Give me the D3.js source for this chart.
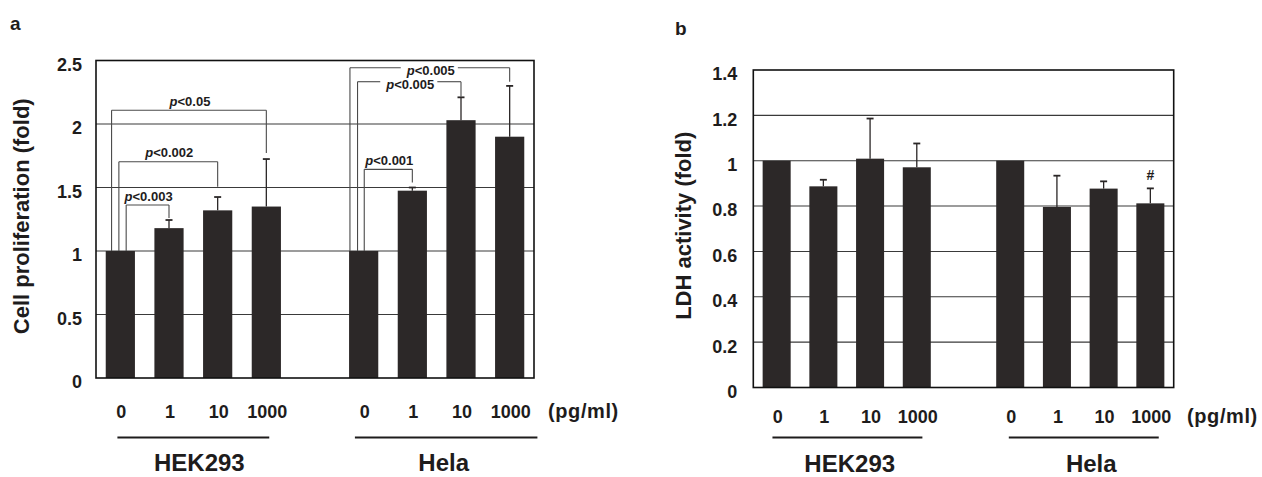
<!DOCTYPE html>
<html><head><meta charset="utf-8">
<script src="https://cdn.jsdelivr.net/npm/d3@7"></script>
<style>
body{margin:0;background:#fff;}
svg text{font-family:"Liberation Sans",Arial,Helvetica,sans-serif;font-weight:bold;fill:#1e1c1c;}
</style></head>
<body><svg id="c" width="1262" height="477"></svg>
<script>
// ---------- data ----------
const doses = ["0", "1", "10", "1000"];
const cellLines = ["HEK293", "Hela"];
const unitLabel = "(pg/ml)";

// panel a: cell proliferation (fold), order HEK293 0,1,10,1000 then Hela 0,1,10,1000
const profMean = [1.00, 1.18, 1.32, 1.35, 1.00, 1.475, 2.03, 1.90];
const profErr  = [0.00, 0.064, 0.105, 0.374, 0.00, 0.025, 0.18, 0.40];
const profTicks = [0, 0.5, 1, 1.5, 2, 2.5];
const profTickLabels = ["0", "0.5", "1", "1.5", "2", "2.5"];

// panel b: LDH activity (fold)
const ldhMean = [1.00, 0.887, 1.009, 0.971, 1.00, 0.796, 0.877, 0.812];
const ldhErr  = [0.00, 0.029, 0.177, 0.105, 0.00, 0.138, 0.032, 0.066];
const ldhTicks = [0, 0.2, 0.4, 0.6, 0.8, 1, 1.2, 1.4];
const ldhTickLabels = ["0", "0.2", "0.4", "0.6", "0.8", "1", "1.2", "1.4"];

// significance brackets (panel a): bar indices, bracket level and right-end level (data units)
const profBrackets = [
  {from: 0, to: 3, level: 2.108, end: 1.772, p: "0.05"},
  {from: 0, to: 2, level: 1.703, end: 1.506, p: "0.002"},
  {from: 0, to: 1, level: 1.362, end: 1.26,  p: "0.003"},
  {from: 4, to: 7, level: 2.443, end: 2.333, p: "0.005"},
  {from: 4, to: 6, level: 2.333, end: 2.215, p: "0.005"},
  {from: 4, to: 5, level: 1.643, end: 1.54,  p: "0.001"}
];
const bracketLeftShift = [-0.3, -0.05, 0.2, -0.47, -0.21, 0.02]; // fraction of bar width
const bracketInline = [false, false, false, true, true, false];

// panel b marker
const ldhMarks = [{bar: 7, text: "#"}];

// ---------- drawing ----------
const svg = d3.select("#c");
const slots = d3.range(9);
const slotOf = i => i < 4 ? i : i + 1;
const BAR = "#2c2828";

function panel(o) {
  const g = svg.append("g");
  const x = d3.scaleBand().domain(slots).range([o.left, o.right]).paddingInner(0.4).paddingOuter(0.2);
  const y = d3.scaleLinear().domain([0, o.max]).range([o.bottom, o.top]);
  const bw = x.bandwidth();
  const cx = i => x(slotOf(i)) + bw / 2;

  // gridlines
  g.append("g").selectAll("line").data(o.ticks.filter(t => t > 0 && t < o.max)).join("line")
    .attr("x1", o.left).attr("x2", o.right)
    .attr("y1", d => y(d)).attr("y2", d => y(d))
    .attr("stroke", "#3a3a3a").attr("stroke-width", 1.1);

  // y axis labels via d3 axis
  const ax = d3.axisLeft(y).tickValues(o.ticks).tickSize(0).tickPadding(o.pad)
    .tickFormat((d, i) => o.tickLabels[i]);
  const axg = g.append("g").attr("transform", `translate(${o.left},0)`).call(ax);
  axg.select(".domain").remove();
  axg.selectAll("text").attr("font-size", 18).attr("dy", "0.55em")
    .style("font-family", '"Liberation Sans",Arial,sans-serif').style("font-weight", "bold").attr("fill", "#1e1c1c");

  // bars
  g.append("g").selectAll("rect").data(o.mean).join("rect")
    .attr("x", (d, i) => x(slotOf(i))).attr("width", bw)
    .attr("y", d => y(d)).attr("height", d => y(0) - y(d))
    .attr("fill", BAR);

  // error bars
  const eb = g.append("g").attr("stroke", "#2a2626").attr("stroke-width", 1.3);
  o.mean.forEach((m, i) => {
    if (o.err[i] <= 0) return;
    const top = y(m + o.err[i]);
    eb.append("line").attr("x1", cx(i)).attr("x2", cx(i)).attr("y1", y(m)).attr("y2", top);
    eb.append("line").attr("x1", cx(i) - 3.5).attr("x2", cx(i) + 3.5).attr("y1", top).attr("y2", top).attr("stroke-width", 1.8);
  });

  // frame
  g.append("rect").attr("x", o.left).attr("y", o.top)
    .attr("width", o.right - o.left).attr("height", o.bottom - o.top)
    .attr("fill", "none").attr("stroke", "#111").attr("stroke-width", 1.6);

  // brackets
  (o.brackets || []).forEach((b, k) => {
    const x1 = cx(b.from) + o.shift[k] * bw;
    const x2 = cx(b.to);
    const yl = y(b.level);
    const bg = g.append("g").attr("stroke", "#4a4a4a").attr("stroke-width", 1.1).attr("fill", "none");
    bg.append("line").attr("x1", x1).attr("x2", x1).attr("y1", y(o.mean[b.from])).attr("y2", yl);
    bg.append("line").attr("x1", x2).attr("x2", x2).attr("y1", yl).attr("y2", y(b.end));
    const xm = (x1 + x2) / 2 + 1;
    const t = g.append("text").attr("x", xm).attr("text-anchor", "middle").attr("font-size", 13);
    t.append("tspan").attr("font-style", "italic").text("p");
    t.append("tspan").text("<" + b.p);
    if (o.inline[k]) {
      t.attr("y", yl + 7.5);
      const w = t.node().getComputedTextLength();
      bg.append("line").attr("x1", x1).attr("x2", xm - w / 2 - 6).attr("y1", yl).attr("y2", yl);
      bg.append("line").attr("x1", xm + w / 2 + 3).attr("x2", x2).attr("y1", yl).attr("y2", yl);
    } else {
      t.attr("y", yl - 4.5);
      bg.append("line").attr("x1", x1).attr("x2", x2).attr("y1", yl).attr("y2", yl);
    }
  });

  // marks
  (o.marks || []).forEach(mk => {
    g.append("text").attr("x", cx(mk.bar)).attr("y", y(o.mean[mk.bar] + o.err[mk.bar]) - 8)
      .attr("text-anchor", "middle").attr("font-size", 14).text(mk.text);
  });

  // dose labels
  g.append("g").selectAll("text").data(d3.range(8)).join("text")
    .attr("x", i => cx(i) + 1).attr("y", o.doseY).attr("text-anchor", "middle")
    .attr("font-size", 18).text(i => doses[i % 4]);
  g.append("text").attr("x", o.unitX).attr("y", o.doseY).attr("font-size", 20)
    .attr("letter-spacing", 0.6).text(unitLabel);

  // group underlines and labels
  cellLines.forEach((name, gi) => {
    const a = cx(gi * 4), b = cx(gi * 4 + 3);
    g.append("line").attr("x1", a + o.ul[gi][0] * bw).attr("x2", b + o.ul[gi][1] * bw)
      .attr("y1", o.ulY).attr("y2", o.ulY).attr("stroke", "#1e1c1c").attr("stroke-width", 2.2);
    g.append("text").attr("x", (a + b) / 2 + o.gshift[gi]).attr("y", o.groupY).attr("text-anchor", "middle")
      .attr("font-size", 24).text(name);
  });

  // y title
  g.append("text").attr("transform", `translate(${o.titleX},${(o.top + o.bottom) / 2 - 3}) rotate(-90)`)
    .attr("text-anchor", "middle").attr("font-size", 22).text(o.title);

  // panel letter
  g.append("text").attr("x", o.letterX).attr("y", o.letterY).attr("font-size", 19).text(o.letter);
}

panel({
  left: 96, right: 534, top: 60.5, bottom: 378, max: 2.5, pad: 14,
  ticks: profTicks, tickLabels: profTickLabels, mean: profMean, err: profErr,
  brackets: profBrackets, shift: bracketLeftShift, inline: bracketInline,
  doseY: 418, unitX: 548, ulY: 437.5, ul: [[-0.1, 0.1], [-0.3, 0.95]], gshift: [6, 7], groupY: 471,
  titleX: 29, title: "Cell proliferation (fold)", letter: "a", letterX: 10, letterY: 30
});

panel({
  left: 753.3, right: 1173.7, top: 70, bottom: 387.5, max: 1.4, pad: 16,
  ticks: ldhTicks, tickLabels: ldhTickLabels, mean: ldhMean, err: ldhErr, marks: ldhMarks,
  doseY: 423, unitX: 1187, ulY: 437.5, ul: [[-0.15, 0.2], [-0.05, 0.3]], gshift: [3, 11], groupY: 472,
  titleX: 691, title: "LDH activity (fold)", letter: "b", letterX: 675, letterY: 35
});
</script></body></html>
